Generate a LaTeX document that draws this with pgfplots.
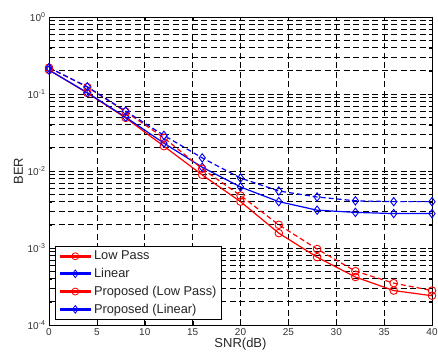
\documentclass[border=0pt]{standalone}
\usepackage{fontspec}
\setmainfont{Liberation Sans}
\usepackage{pgfplots}
\pgfplotsset{compat=1.18}
\pgfplotsset{
  mylegend/.style={legend image code/.code={
    \draw[##1, solid, line width=2.6pt] (0pt,0pt) -- (31pt,0pt);
    \draw[##1, solid, line width=0.8pt, only marks] plot coordinates {(15.5pt,0pt)};
  }},
}
\begin{document}
\begin{tikzpicture}
\useasboundingbox (-49pt,-33pt) rectangle (389pt,325pt);
\begin{axis}[
  at={(0,0)}, anchor=south west,
  scale only axis, width=383pt, height=308pt,
  ymode=log, xmin=0, xmax=40, ymin=1e-4, ymax=1,
  xtick={0,5,...,40},
  ytick={1e-4,1e-3,1e-2,1e-1,1},
  yticklabels={10\textsuperscript{-4},10\textsuperscript{-3},10\textsuperscript{-2},10\textsuperscript{-1},10\textsuperscript{0}},
  /pgf/number format/assume math mode=true,
  ticklabel style={font=\fontsize{10}{11}\selectfont, text=black!80},
  xlabel={SNR(dB)}, ylabel={BER},
  label style={font=\fontsize{13}{14}\selectfont, text=black!85},
  xlabel style={yshift=4pt},
  ylabel style={yshift=-2pt},
  grid=both,
  major grid style={black, line width=0.7pt, dash pattern=on 6pt off 3.5pt},
  minor grid style={black, line width=0.7pt, dash pattern=on 6pt off 3.5pt},
  minor x tick num=0,
  tick style={black},
  axis line style={black, line width=0.8pt},
  legend style={at={(0.016,0.016)}, anchor=south west, font=\fontsize{12.8}{13.5}\selectfont,
    draw=black, line width=0.7pt, fill=white, row sep=3pt, inner sep=3pt,
    text=black!85},
  legend cell align=left,
]
\addlegendimage{mylegend, red, mark=o, mark size=3.5pt}
\addlegendentry{Low Pass}
\addlegendimage{mylegend, blue, mark=diamond, mark size=3.8pt}
\addlegendentry{Linear}
\addlegendimage{mylegend, red, mark=o, mark size=3.5pt}
\addlegendentry{Proposed (Low Pass)}
\addlegendimage{mylegend, blue, mark=diamond, mark size=3.8pt}
\addlegendentry{Proposed (Linear)}
% Low Pass (solid red)
\addplot[red, line width=1.2pt, mark=o, mark size=3.8pt, mark options={line width=0.9pt}, forget plot] coordinates {
(0,0.205) (4,0.103) (8,0.049) (12,0.021) (16,0.0089) (20,0.0040) (24,0.00156) (28,0.00076) (32,0.00042) (36,0.00028) (40,0.00024)};
% Linear (solid blue)
\addplot[blue, line width=1.2pt, mark=diamond, mark size=4.2pt, mark options={line width=0.9pt}, forget plot] coordinates {
(0,0.205) (4,0.104) (8,0.050) (12,0.023) (16,0.0112) (20,0.0062) (24,0.0040) (28,0.0031) (32,0.0029) (36,0.0028) (40,0.0028)};
% Proposed (Low Pass) dashed red
\addplot[red, line width=1.2pt, dash pattern=on 5pt off 3pt, mark=o, mark size=3.8pt, mark options={solid, line width=0.9pt}, forget plot] coordinates {
(0,0.22) (4,0.123) (8,0.059) (12,0.027) (16,0.0107) (20,0.0048) (24,0.0020) (28,0.00097) (32,0.00050) (36,0.00035) (40,0.00028)};
% Proposed (Linear) dashed blue
\addplot[blue, line width=1.2pt, dash pattern=on 5pt off 3pt, mark=diamond, mark size=4.2pt, mark options={solid, line width=0.9pt}, forget plot] coordinates {
(0,0.22) (4,0.124) (8,0.060) (12,0.029) (16,0.0148) (20,0.0081) (24,0.0055) (28,0.0046) (32,0.0041) (36,0.0040) (40,0.0040)};
\end{axis}
\end{tikzpicture}
\end{document}
